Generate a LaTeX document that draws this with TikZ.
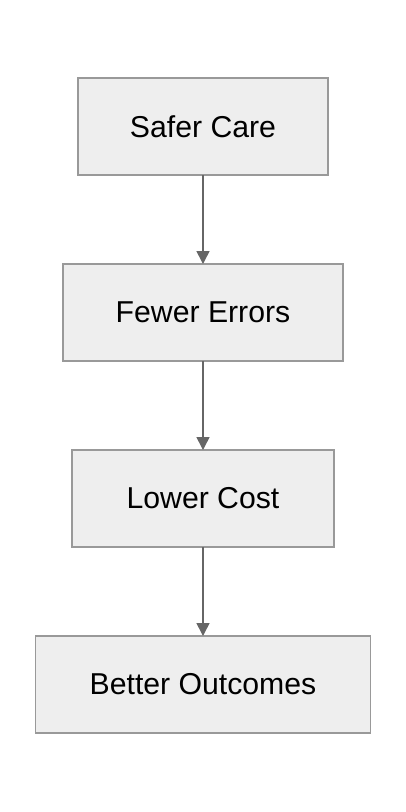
\documentclass[tikz,border=0pt]{standalone}
\usepackage{fontspec}
\setmainfont{Liberation Sans}
\usetikzlibrary{positioning,arrows.meta}
\definecolor{boxfill}{HTML}{EEEEEE}
\definecolor{boxline}{HTML}{999999}
\definecolor{arrowgray}{HTML}{666666}
\tikzstyle{stage}=[rectangle,draw=boxline,fill=boxfill,line width=1.3pt,outer sep=0pt,minimum height=97pt,inner sep=0pt,font=\fontsize{30.2}{35}\selectfont]
\tikzstyle{flow} = [draw,arrowgray,line width=1.6pt,-{Triangle[width=13pt,length=13pt]}]

\begin{document}
\begin{tikzpicture}[node distance=89pt]
  \useasboundingbox (0,0) rectangle (406pt,-812pt);
  % The four stages, top to bottom
  \node[stage,minimum width=250pt] (safer) at (203pt,-126.5pt) {Safer Care};
  \node[stage,minimum width=280pt,below=of safer] (fewer) {Fewer Errors};
  \node[stage,minimum width=262pt,below=of fewer] (lower) {Lower Cost};
  \node[stage,minimum width=335pt,below=of lower] (better) {Better Outcomes};

  % Connect the stages
  \foreach \source/ \dest in {safer/fewer, fewer/lower, lower/better}
    \path[flow] (\source) -- (\dest);
\end{tikzpicture}
\end{document}
